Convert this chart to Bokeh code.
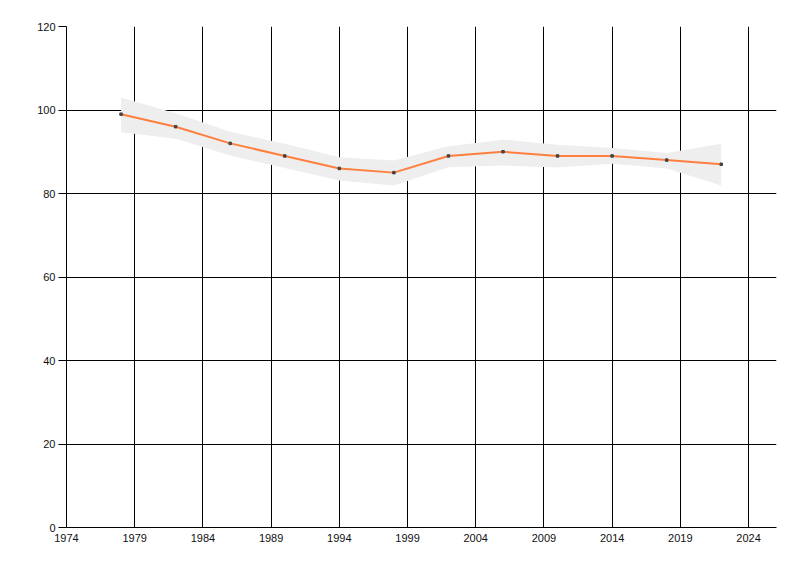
import numpy as np
from bokeh.plotting import figure
from bokeh.models import FixedTicker, Range1d
from bokeh.embed import file_html
from bokeh.resources import INLINE

# values
years = [1978, 1982, 1986, 1990, 1994, 1998, 2002, 2006, 2010, 2014, 2018, 2022]
values = [99, 96, 92, 89, 86, 85, 89, 90, 89, 89, 88, 87]
band_upper = [103, 99.2, 94.8, 91.9, 88.7, 87.9, 91.3, 92.9, 91.7, 90.9, 89.7, 91.9]
band_lower = [94.7, 93.1, 89.1, 86.1, 83.1, 81.9, 86.3, 86.7, 86.2, 87.1, 86.0, 81.9]
x_ticks = [1974, 1979, 1984, 1989, 1994, 1999, 2004, 2009, 2014, 2019, 2024]
y_ticks = [0, 20, 40, 60, 80, 100, 120]

p = figure(width=792, height=568, output_backend="svg", toolbar_location=None,
           x_range=Range1d(1974, 2026.05), y_range=Range1d(0, 120),
           min_border_left=66, min_border_right=16, min_border_top=26,
           min_border_bottom=41)
p.outline_line_color = None

# confidence band and the series
p.varea(x=years, y1=band_lower, y2=band_upper, fill_color="#eeeeee")
p.line(years, values, line_color="#ff7f3f", line_width=2)
p.scatter(years, values, marker="square", size=2.5, color="#444444")

p.xaxis.ticker = FixedTicker(ticks=x_ticks)
p.yaxis.ticker = FixedTicker(ticks=y_ticks)

for ax in (p.xaxis, p.yaxis):
    ax.axis_line_color = "black"
    ax.major_tick_line_color = "black"
    ax.minor_tick_line_color = None
    ax.major_tick_in = 0
    ax.major_label_text_font = "Liberation Sans"
    ax.major_label_text_font_size = "11px"
    ax.major_label_text_color = "#111111"

p.xaxis.major_tick_out = 0
p.xaxis.major_label_standoff = 6
p.yaxis.major_tick_out = 8
p.yaxis.major_label_standoff = 3

p.xgrid.grid_line_color = "black"
p.ygrid.grid_line_color = "black"
p.xgrid.ticker = FixedTicker(ticks=x_ticks)
p.ygrid.ticker = FixedTicker(ticks=y_ticks)

open("out.html", "w").write(file_html(p, INLINE))
